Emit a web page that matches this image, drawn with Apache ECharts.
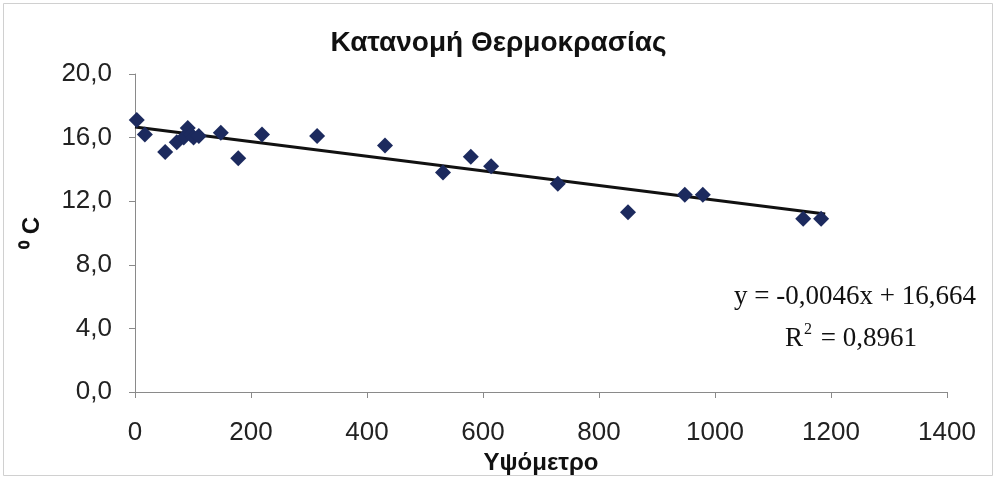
<!DOCTYPE html>
<html>
<head>
<meta charset="utf-8">
<script src="https://cdn.jsdelivr.net/npm/echarts@6/dist/echarts.min.js"></script>
<style>
  html, body { margin: 0; padding: 0; background: #fff; }
  #chart { width: 997px; height: 480px; }
</style>
</head>
<body>
<div id="chart"></div>
<script>
// Altitude (m) of each station and its mean temperature (°C)
const altitude = [3, 17, 52, 72, 84, 91, 96, 101, 110, 148, 178, 219, 314, 431, 531, 579, 614, 729, 850, 948, 979, 1152, 1183];
const temperature = [17.1, 16.2, 15.1, 15.7, 16.0, 16.6, 16.2, 16.0, 16.1, 16.3, 14.7, 16.2, 16.1, 15.5, 13.8, 14.8, 14.2, 13.1, 11.3, 12.4, 12.4, 10.9, 10.9];

// Linear trend line coefficients and fit quality
const slope = -0.0046;
const intercept = 16.664;
const rSquared = 0.8961;
const trendRange = [0, 1190];

const xTicks = [0, 200, 400, 600, 800, 1000, 1200, 1400];
const yTicks = [0, 4, 8, 12, 16, 20];

const fmt = (v, d) => v.toFixed(d).replace('.', ',');

const points = altitude.map((a, i) => [a, temperature[i]]);
const trend = trendRange.map(x => [x, intercept + slope * x]);

const chart = echarts.init(document.getElementById('chart'));
chart.setOption({
  animation: false,
  backgroundColor: '#ffffff',
  title: {
    text: 'Κατανομή Θερμοκρασίας',
    left: 'center',
    top: 24,
    textStyle: { fontFamily: 'Liberation Sans', fontWeight: 'bold', fontSize: 28, color: '#111' }
  },
  graphic: [{
    type: 'rect',
    shape: { x: 3.5, y: 3.5, width: 989, height: 472 },
    style: { fill: 'none', stroke: '#d0d0d0', lineWidth: 1 },
    silent: true
  }, {
    type: 'text',
    x: 855, y: 297,
    style: {
      text: 'y = ' + fmt(slope, 4) + 'x + ' + fmt(intercept, 3),
      font: '27px "Liberation Serif"', fill: '#111',
      textAlign: 'center', textVerticalAlign: 'middle'
    }
  }, {
    type: 'text',
    x: 851, y: 337,
    style: {
      text: '{b|R}{s|2}{b| = ' + fmt(rSquared, 4) + '}',
      textAlign: 'center', textVerticalAlign: 'middle',
      rich: {
        b: { font: '27px "Liberation Serif"', fill: '#111', verticalAlign: 'bottom' },
        s: { font: '16px "Liberation Serif"', fill: '#111', verticalAlign: 'top', padding: [0, 2, 14, 1] }
      }
    }
  }],
  grid: { left: 135, right: 50, top: 74, bottom: 88 },
  xAxis: {
    type: 'value',
    min: xTicks[0], max: xTicks[xTicks.length - 1], interval: 200,
    name: 'Υψόμετρο',
    nameLocation: 'middle',
    nameGap: 51,
    nameTextStyle: { fontFamily: 'Liberation Sans', fontWeight: 'bold', fontSize: 24, color: '#111' },
    axisLine: { show: true, lineStyle: { color: '#8a8a8a', width: 1 } },
    axisTick: { show: true, inside: false, length: 6, lineStyle: { color: '#8a8a8a' } },
    axisLabel: { margin: 28, fontFamily: 'Liberation Sans', fontSize: 26, color: '#222', formatter: v => String(v) },
    splitLine: { show: false }
  },
  yAxis: {
    type: 'value',
    min: yTicks[0], max: yTicks[yTicks.length - 1], interval: 4,
    name: '⁰ C',
    nameLocation: 'middle',
    nameRotate: 90,
    nameGap: 91,
    nameTextStyle: { fontFamily: 'Liberation Sans', fontWeight: 'bold', fontSize: 24, color: '#111' },
    axisLine: { show: true, lineStyle: { color: '#8a8a8a', width: 1 } },
    axisTick: { show: true, inside: false, length: 6, lineStyle: { color: '#8a8a8a' } },
    axisLabel: { margin: 23, fontFamily: 'Liberation Sans', fontSize: 26, color: '#222', formatter: v => fmt(v, 1) },
    splitLine: { show: false }
  },
  series: [{
    type: 'line',
    data: trend,
    showSymbol: false,
    lineStyle: { color: '#111', width: 3 },
    z: 3
  }, {
    type: 'scatter',
    data: points,
    symbol: 'diamond',
    symbolSize: [16, 16],
    itemStyle: { color: '#1c2a5e', opacity: 1 },
    z: 4
  }]
});
</script>
</body>
</html>
